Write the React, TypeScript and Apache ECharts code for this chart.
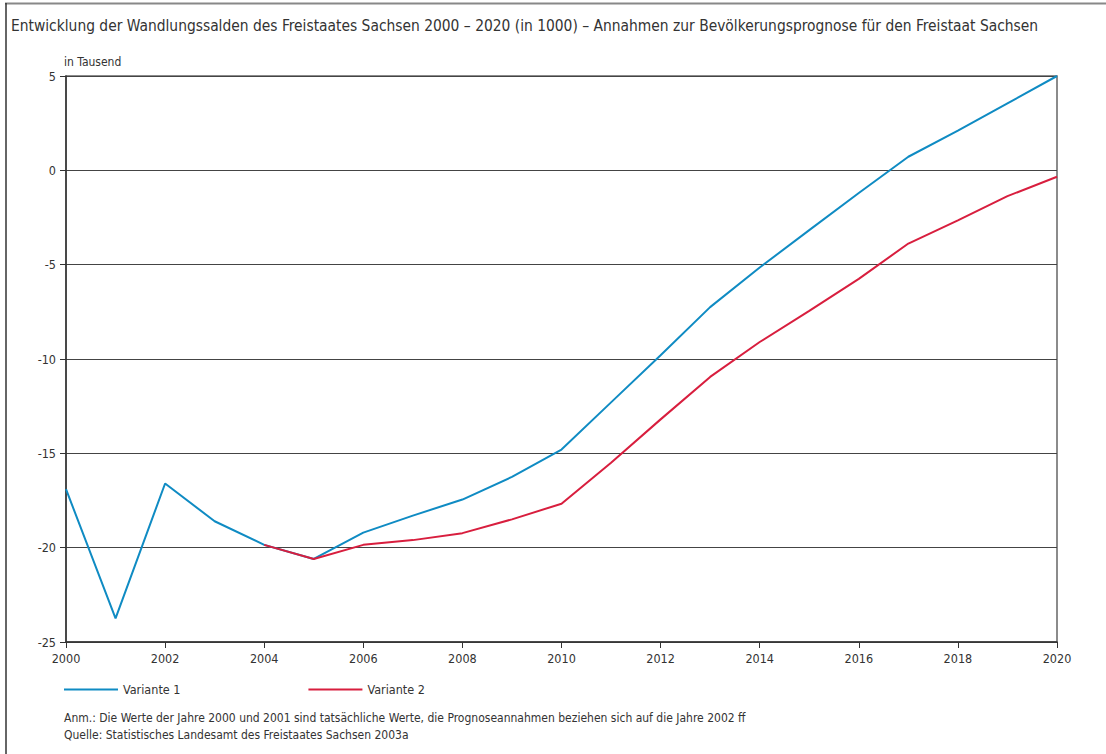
import React, { useEffect, useRef } from "react";
import * as echarts from "echarts";

const TITLE =
  "Entwicklung der Wandlungssalden des Freistaates Sachsen 2000 – 2020 (in 1000) – Annahmen zur Bevölkerungsprognose für den Freistaat Sachsen";
const UNIT = "in Tausend";
const NOTE1 =
  "Anm.: Die Werte der Jahre 2000 und 2001 sind tatsächliche Werte, die Prognoseannahmen beziehen sich auf die Jahre 2002 ff";
const NOTE2 = "Quelle: Statistisches Landesamt des Freistaates Sachsen 2003a";

const years = [
  2000, 2001, 2002, 2003, 2004, 2005, 2006, 2007, 2008, 2009, 2010, 2011, 2012,
  2013, 2014, 2015, 2016, 2017, 2018, 2019, 2020,
];
const variante1 = [
  -16.9, -23.75, -16.6, -18.6, -19.85, -20.6, -19.2, -18.3, -17.45, -16.25,
  -14.8, -12.3, -9.8, -7.25, -5.15, -3.17, -1.2, 0.72, 2.1, 3.55, 5.0,
];
const variante2 = [
  null, null, null, null, -19.85, -20.6, -19.85, -19.6, -19.23, -18.5, -17.67,
  -15.5, -13.2, -10.95, -9.1, -7.45, -5.75, -3.88, -2.65, -1.37, -0.34,
];
const seriesNames = ["Variante 1", "Variante 2"];

const FONT = "'DejaVu Sans Condensed', 'Liberation Sans Narrow', sans-serif";
const TXT = "#333333";

export default function App() {
  const ref = useRef<HTMLDivElement>(null);
  useEffect(() => {
    if (!ref.current) return;
    const chart = echarts.init(ref.current, undefined, { renderer: "svg" });
    const pairs = (vals: (number | null)[]) =>
      years
        .map((y, i) => [y, vals[i]])
        .filter((p) => p[1] !== null);
    chart.setOption({
      animation: false,
      backgroundColor: "#ffffff",
      textStyle: { fontFamily: FONT },
      grid: {
        left: 66,
        top: 76,
        right: 49,
        bottom: 112,
        show: true,
        outerBoundsMode: "none",
        containLabel: false,
        borderColor: "#666666",
        borderWidth: 1.5,
        backgroundColor: "transparent",
      },
      legend: {
        left: 64,
        top: 683,
        padding: 0,
        itemWidth: 54,
        itemHeight: 2,
        itemGap: 128,
        icon: "rect",
        textStyle: { fontFamily: FONT, fontSize: 12.5, color: TXT },
        data: seriesNames,
      },
      xAxis: {
        type: "value",
        min: 2000,
        max: 2020,
        interval: 2,
        axisLine: { show: true, onZero: false, lineStyle: { color: "#333333", width: 1.5 } },
        axisTick: { show: true, length: 6, lineStyle: { color: "#333333" } },
        axisLabel: {
          color: TXT,
          fontFamily: FONT,
          fontSize: 12.5,
          margin: 10,
          formatter: (v: number) => String(v),
        },
        splitLine: { show: false },
      },
      yAxis: {
        type: "value",
        min: -25,
        max: 5,
        interval: 5,
        axisLine: { show: true, onZero: false, lineStyle: { color: "#333333", width: 1.5 } },
        axisTick: { show: true, length: 6, lineStyle: { color: "#333333" } },
        axisLabel: { color: TXT, fontFamily: FONT, fontSize: 12.5, margin: 10 },
        splitLine: { show: true, lineStyle: { color: "#444444", width: 1.2 } },
      },
      series: [
        {
          name: seriesNames[0],
          type: "line",
          data: pairs(variante1),
          symbol: "none",
          color: "#0f8bc3",
          lineStyle: { width: 2, color: "#0f8bc3" },
          z: 3,
        },
        {
          name: seriesNames[1],
          type: "line",
          data: pairs(variante2),
          symbol: "none",
          color: "#d81e3e",
          lineStyle: { width: 2, color: "#d81e3e" },
          z: 4,
        },
      ],
      graphic: [
        {
          type: "line",
          shape: { x1: 5, y1: 3.5, x2: 1106, y2: 3.5 },
          style: { stroke: "#888888", lineWidth: 2 },
        },
        {
          type: "line",
          shape: { x1: 6, y1: 3, x2: 6, y2: 754 },
          style: { stroke: "#333333", lineWidth: 1.5 },
        },
        {
          type: "text",
          left: 11,
          top: 18,
          style: { text: TITLE, fill: TXT, font: `15.4px ${FONT}` },
        },
        {
          type: "text",
          left: 64,
          top: 56,
          style: { text: UNIT, fill: TXT, font: `12px ${FONT}` },
        },
        {
          type: "text",
          left: 64,
          top: 712,
          style: { text: NOTE1, fill: TXT, font: `12px ${FONT}` },
        },
        {
          type: "text",
          left: 64,
          top: 729,
          style: { text: NOTE2, fill: TXT, font: `12px ${FONT}` },
        },
      ],
    });
    return () => chart.dispose();
  }, []);
  return (
    <div
      ref={ref}
      style={{ position: "fixed", left: 0, top: 0, width: 1106, height: 754 }}
    />
  );
}
